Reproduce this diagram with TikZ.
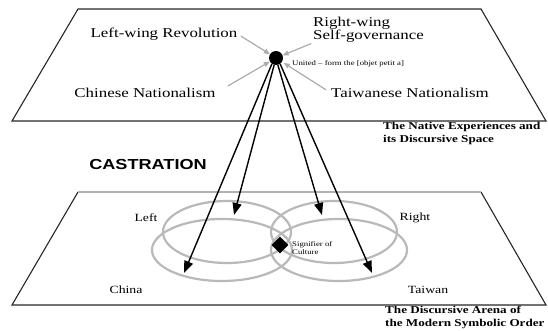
\documentclass[tikz,border=0pt]{standalone}
\usepackage{fontspec}
\setmainfont{Liberation Serif}[FakeStretch=1.25]
\setsansfont{Liberation Sans}[FakeStretch=1.25]
\usetikzlibrary{arrows.meta, positioning, shapes.geometric}

\begin{document}
\begin{tikzpicture}[x=1pt, y=-1pt, >=Stealth, every node/.style={inner sep=0pt},
    plane/.style={line width=1.1pt, black!85},
    ring/.style={draw=gray!55, line width=2.2pt},
    feed/.style={->, >={Triangle[length=6pt,width=5pt]}, draw=gray!65, fill=gray!65, line width=1.2pt},
    project/.style={->, >={Triangle[length=12pt,width=9pt]}, line width=1.4pt},
    bigtext/.style={font=\fontsize{13.5}{13}\selectfont},
    midtext/.style={font=\fontsize{11}{12}\selectfont},
    tinytext/.style={font=\fontsize{7}{8}\selectfont, align=left},
    caption/.style={font=\bfseries\fontsize{10.5}{13}\selectfont, align=left}]
  \useasboundingbox (0,0) rectangle (548,331);
  % the two planes
  \draw[plane] (78,9) -- (481,9) -- (546,121) -- (12,121) -- cycle;
  \draw[plane] (481,192) -- (546,305) -- (12,305) -- (78,192);
  \draw[plane, gray!60] (78,192) -- (481,192);
  % rings of the symbolic order
  \draw[ring] (227,232) ellipse [x radius=64pt, y radius=31pt];
  \draw[ring] (222,250) ellipse [x radius=70pt, y radius=31pt];
  \draw[ring] (334,232) ellipse [x radius=63pt, y radius=31pt];
  \draw[ring] (339,250) ellipse [x radius=68pt, y radius=31pt];
  \node[diamond, fill=black, minimum size=17pt] (sig) at (280,245) {};
  \node[tinytext, anchor=west] (sigtxt) at (292,248) {Signifier of\\Culture};
  % native experiences
  \node[circle, fill=black, minimum size=14pt] (hub) at (276,58) {};
  \node[bigtext] (lwrev) at (164,34) {Left-wing Revolution};
  \node[bigtext, align=left, anchor=west] (rwself) at (313,30) {Right-wing\\Self-governance};
  \node[tinytext, anchor=west] (unite) at (292,64) {United -- form the [objet petit a]};
  \node[bigtext] (cnat) at (145,93) {Chinese Nationalism};
  \node[bigtext] (tnat) at (410,93) {Taiwanese Nationalism};
  \node[caption, anchor=north west] (native) at (383,122) {The Native Experiences and\\its Discursive Space};
  \node[font=\sffamily\bfseries\fontsize{14.5}{15}\selectfont] (castr) at (148,165) {CASTRATION};
  \node[midtext] (left) at (146,218) {Left};
  \node[midtext] (right) at (415,218) {Right};
  \node[midtext] (china) at (126,290) {China};
  \node[midtext] (taiwan) at (428,290) {Taiwan};
  \node[caption, anchor=north west] (arena) at (385,306) {The Discursive Arena of\\the Modern Symbolic Order};
  % feeding arrows
  \draw[feed, shorten <=4pt] (lwrev.east) -- (hub);
  \draw[feed, shorten <=2pt] (rwself.south west) -- (hub);
  \draw[feed, shorten <=14pt] (cnat.east) -- (hub);
  \draw[feed, shorten <=6pt, shorten >=2pt] (tnat.west) -- (hub);
  % projection onto the arena
  \coordinate (chinaP) at (184,273);
  \coordinate (leftP) at (234,215);
  \coordinate (rightP) at (322,215);
  \coordinate (taiwanP) at (372,273);
  \draw[project] (hub.235) -- (chinaP);
  \draw[project] (hub.255) -- (leftP);
  \draw[project] (hub.285) -- (rightP);
  \draw[project] (hub.305) -- (taiwanP);
\end{tikzpicture}
\end{document}
